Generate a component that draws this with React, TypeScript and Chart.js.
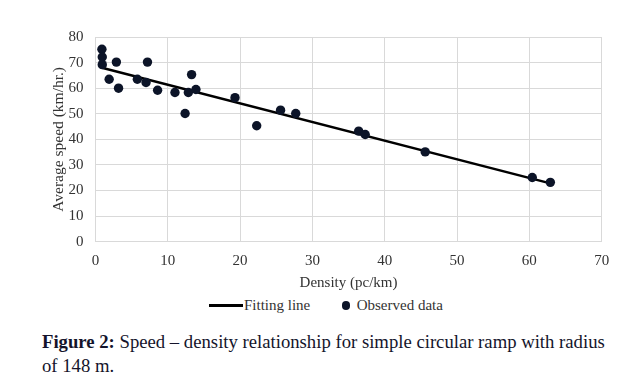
import React, { useEffect, useRef } from "react";
import { Chart, registerables } from "chart.js";

Chart.register(...registerables);

// Observed data: density (pc/km) and average speed (km/hr.)
const densityObserved = [0.9, 0.95, 0.95, 1.9, 2.9, 3.2, 5.8, 7.0, 7.2, 8.6, 11.0, 12.4, 12.85, 13.3, 13.9, 19.3, 22.3, 25.6, 27.7, 36.4, 37.3, 45.6, 60.4, 62.9];
const speedObserved = [75.2, 72.2, 69.2, 63.5, 70.2, 60.0, 63.5, 62.2, 70.2, 59.2, 58.3, 50.1, 58.3, 65.3, 59.5, 56.3, 45.3, 51.4, 50.1, 43.2, 41.9, 35.1, 25.1, 23.2];

// Fitting line end points
const densityFit = [0.9, 62.9];
const speedFit = [68.0, 22.8];

const xTicks = [0, 10, 20, 30, 40, 50, 60, 70];
const yTicks = [0, 10, 20, 30, 40, 50, 60, 70, 80];

const FONT = "'Liberation Serif', 'Times New Roman', serif";
const TEXT = "#333333";
const GRID = "#d9d9d9";
const POINT = "#0c1428";

export default function App() {
  const ref = useRef<HTMLCanvasElement | null>(null);

  useEffect(() => {
    if (!ref.current) return;
    const chart = new Chart(ref.current, {
      type: "scatter",
      data: {
        datasets: [
          {
            label: "Fitting line",
            data: densityFit.map((x, i) => ({ x, y: speedFit[i] })),
            showLine: true,
            borderColor: "#000000",
            borderWidth: 2.5,
            pointRadius: 0,
            pointHoverRadius: 0,
            order: 2,
          },
          {
            label: "Observed data",
            data: densityObserved.map((x, i) => ({ x, y: speedObserved[i] })),
            backgroundColor: POINT,
            borderColor: POINT,
            pointRadius: 4.7,
            borderWidth: 0,
            order: 1,
          },
        ],
      },
      options: {
        responsive: false,
        animation: false,
        layout: { padding: { top: 37, right: 19.3, bottom: 0, left: 46 } },
        plugins: { legend: { display: false }, tooltip: { enabled: false } },
        scales: {
          x: {
            type: "linear",
            min: 0,
            max: 70,
            afterBuildTicks: (s: any) => { s.ticks = xTicks.map((v) => ({ value: v })); },
            afterFit: (s: any) => { s.height = 53.3; },
            ticks: { color: TEXT, font: { family: FONT, size: 15 }, padding: 10 },
            grid: { color: GRID, lineWidth: 1, drawTicks: false },
            border: { color: GRID },
            title: { display: true, text: "Density (pc/km)", color: TEXT, font: { family: FONT, size: 15 }, padding: 3 },
          },
          y: {
            type: "linear",
            min: 0,
            max: 80,
            afterBuildTicks: (s: any) => { s.ticks = yTicks.map((v) => ({ value: v })); },
            afterFit: (s: any) => { s.width = 49.4; },
            ticks: { color: TEXT, font: { family: FONT, size: 15 }, padding: 12 },
            grid: { color: GRID, lineWidth: 1, drawTicks: false },
            border: { color: GRID },
            title: { display: true, text: "Average speed (km/hr.)", color: TEXT, font: { family: FONT, size: 15.5 }, padding: 4 },
          },
        },
      },
    });
    return () => chart.destroy();
  }, []);

  return (
    <div style={{ position: "fixed", left: 0, top: 0, width: 621, height: 376, background: "#fff", overflow: "hidden" }}>
      <canvas ref={ref} width={621} height={295} style={{ position: "absolute", left: 0, top: 0, width: 621, height: 295 }} />
      <div style={{ position: "absolute", left: 0, top: 296, width: 621, height: 18, fontFamily: FONT, fontSize: 15, color: TEXT, lineHeight: "18px" }}>
        <div style={{ position: "absolute", left: 209, top: 8, width: 34, height: 2.5, background: "#000" }} />
        <span style={{ position: "absolute", left: 244, top: 0, whiteSpace: "nowrap" }}>Fitting line</span>
        <div style={{ position: "absolute", left: 341.5, top: 5, width: 8.5, height: 8.5, borderRadius: "50%", background: POINT }} />
        <span style={{ position: "absolute", left: 356.7, top: 0, whiteSpace: "nowrap" }}>Observed data</span>
      </div>
      <div style={{ position: "absolute", left: 42, top: 330, fontFamily: FONT, fontSize: 18.7, lineHeight: "24px", color: "#14142b", whiteSpace: "nowrap" }}>
        <b>Figure 2:</b> Speed – density relationship for simple circular ramp with radius
        <br />
        of 148 m.
      </div>
    </div>
  );
}
